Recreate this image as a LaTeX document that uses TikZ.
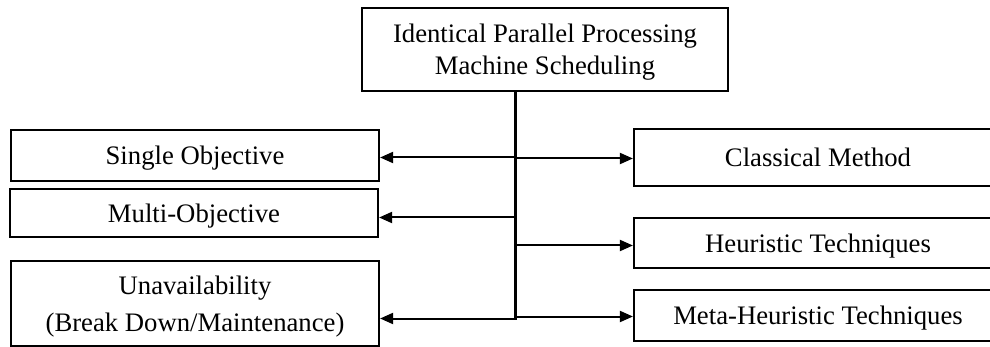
\documentclass[tikz,border=0pt]{standalone}
\usepackage{fontspec}
\setmainfont{Liberation Serif}
\usetikzlibrary{arrows.meta}

\begin{document}
\begin{tikzpicture}[x=0.5pt, y=-0.5pt,
	box/.style={draw, line width=1.1pt, minimum width=184pt, inner sep=0pt, text depth=0pt, align=center, font=\fontsize{13.35}{16}\selectfont},
	arr/.style={line width=1pt, -{Triangle[length=6.5pt,width=5.5pt]}}]
	\clip (0,0) rectangle (990,347);
	\node[box, minimum width=183pt, minimum height=41.5pt] (top) at (545,49.5) {Identical Parallel Processing\\Machine Scheduling};
	\node[box, minimum height=25.5pt] (single) at (195,155.5) {Single Objective};
	\node[box, minimum height=24pt] (multi) at (194,213) {Multi-Objective};
	\node[box, minimum height=42.5pt] (unavail) at (195,303.5) {Unavailability\\[2.5pt](Break Down/Maintenance)};
	\node[box, minimum height=28.5pt] (classical) at (818,157.5) {Classical Method};
	\node[box, minimum height=25pt] (heuristic) at (818,243.3) {Heuristic Techniques};
	\node[box, minimum height=25.3pt] (meta) at (818,315.3) {Meta-Heuristic Techniques};
	\coordinate (trunk) at (515,320);
	\coordinate (j1) at (515,157.5);
	\coordinate (j2) at (515,158.5);
	\coordinate (j3) at (515,217.5);
	\coordinate (j4) at (515,245.5);
	\coordinate (j5) at (515,316.5);
	\coordinate (j6) at (515,318.5);
	\draw[line width=1.5pt] (trunk |- top.south) -- (trunk);
	\draw[arr] (j1) -- (j1 -| single.east);
	\draw[arr] (j2) -- (j2 -| classical.west);
	\draw[arr] (j3) -- (j3 -| multi.east);
	\draw[arr] (j4) -- (j4 -| heuristic.west);
	\draw[arr] (j5) -- (j5 -| meta.west);
	\draw[arr] (j6) -- (j6 -| unavail.east);
\end{tikzpicture}
\end{document}
